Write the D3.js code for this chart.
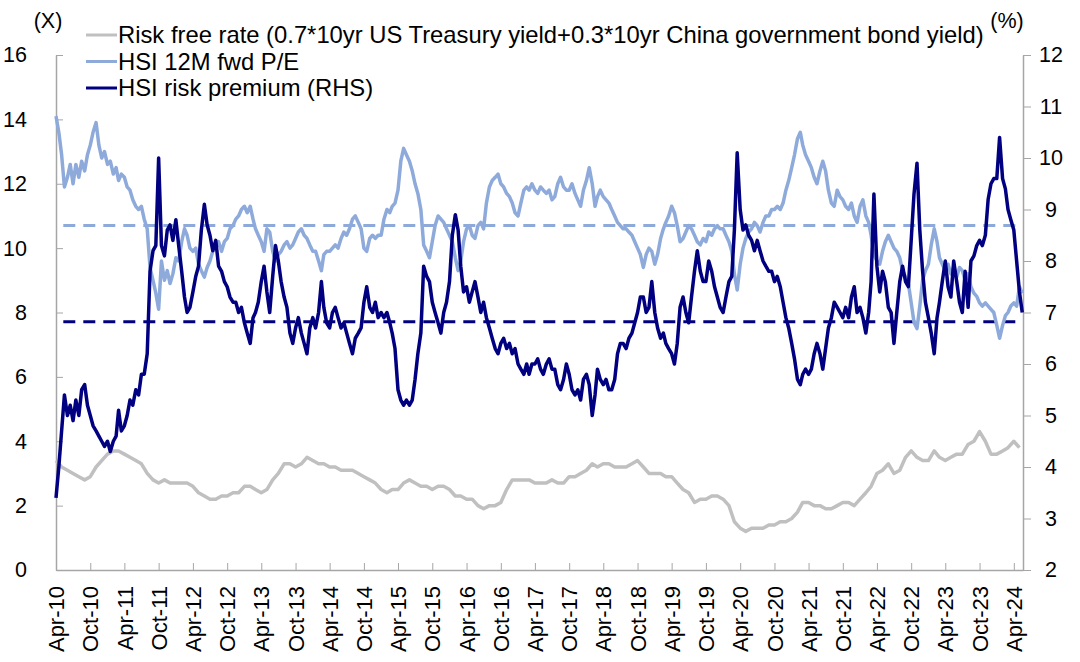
<!DOCTYPE html>
<html><head><meta charset="utf-8">
<script src="https://cdn.jsdelivr.net/npm/d3@7"></script>
<style>
html,body{margin:0;padding:0;background:#fff;}
svg{display:block;font-family:"Liberation Sans",Arial,sans-serif;}
</style></head>
<body><svg id="chart" width="1080" height="662"></svg>
<script>
// ---- DATA ----
const seriesNames = [
  "Risk free rate (0.7*10yr US Treasury yield+0.3*10yr China government bond yield)",
  "HSI 12M fwd P/E",
  "HSI risk premium (RHS)"
];
// x-axis tick labels (every 6 months)
const tickLabels = ["Apr-10","Oct-10","Apr-11","Oct-11","Apr-12","Oct-12","Apr-13","Oct-13","Apr-14","Oct-14",
  "Apr-15","Oct-15","Apr-16","Oct-16","Apr-17","Oct-17","Apr-18","Oct-18","Apr-19","Oct-19",
  "Apr-20","Oct-20","Apr-21","Oct-21","Apr-22","Oct-22","Apr-23","Oct-23","Apr-24"];
const leftTicks = [0,2,4,6,8,10,12,14,16];
const rightTicks = [2,3,4,5,6,7,8,9,10,11,12];
// Half-monthly readings (1st and 16th of each month), Apr-2010 .. May-2024
const peValues = [
  14.1,13.6,12.9,11.9,12.2,12.6,12.0,12.6,12.2,12.7,12.4,12.9,
  13.2,13.6,13.9,13.2,12.8,13.0,12.6,12.7,12.3,12.5,12.1,12.3,
  12.2,11.9,11.8,11.5,11.3,11.2,11.3,10.9,10.6,9.4,9.0,8.6,
  8.1,9.6,9.0,9.3,8.9,9.2,9.7,9.6,10.2,10.6,10.4,10.0,
  9.9,10.0,9.5,9.3,9.1,9.4,9.6,9.9,10.0,10.2,9.9,10.2,
  10.3,10.6,10.7,10.9,11.0,11.2,11.3,11.1,11.3,10.9,10.6,10.4,
  10.2,9.9,10.6,10.5,9.9,9.6,9.8,9.9,10.1,10.2,10.0,10.1,
  10.3,10.5,10.6,10.4,10.3,10.1,9.9,9.9,9.6,9.3,9.8,9.9,
  9.9,10.0,10.1,10.0,10.3,10.5,10.4,10.6,10.9,11.0,10.8,10.6,
  10.0,9.9,10.3,10.4,10.3,10.4,10.4,10.9,11.2,11.1,11.3,11.4,
  11.8,12.7,13.1,12.9,12.7,12.4,12.0,11.7,11.2,10.1,9.9,9.7,
  10.2,10.7,11.0,10.9,10.8,10.6,10.4,10.2,9.7,9.3,9.6,10.2,
  10.6,10.7,10.4,10.3,10.7,10.8,10.6,11.4,11.9,12.1,12.2,12.3,
  12.0,11.9,11.7,11.6,11.4,11.1,11.0,11.4,11.8,11.9,11.8,12.0,
  11.8,11.7,11.9,11.8,11.7,11.8,11.5,11.6,12.0,12.2,11.9,11.8,
  11.8,12.0,11.7,11.5,11.3,11.8,12.1,12.5,12.0,11.3,11.6,11.8,
  11.6,11.5,11.4,11.2,11.0,10.8,10.7,10.6,10.6,10.5,10.4,10.2,
  10.0,9.8,9.4,9.8,10.0,9.9,9.5,9.8,10.3,10.6,10.8,11.0,
  11.3,11.1,10.7,10.2,10.3,10.5,10.7,10.6,10.4,10.2,10.1,10.3,
  10.2,10.5,10.4,10.6,10.7,10.6,10.6,10.4,10.2,9.9,9.2,8.7,
  9.5,10.0,10.3,10.5,10.6,10.8,10.7,10.5,10.8,11.0,11.0,11.2,
  11.2,11.3,11.2,11.4,11.8,12.1,12.5,12.9,13.4,13.6,13.2,12.9,
  12.7,12.5,12.2,12.0,12.4,12.7,12.4,11.8,11.4,11.3,11.8,11.6,
  11.5,11.3,11.2,11.4,11.0,10.8,11.3,11.5,11.0,10.8,10.4,9.8,
  9.6,9.5,9.9,10.2,10.4,10.2,10.0,9.9,9.7,9.3,9.1,8.9,
  8.3,7.7,7.5,8.2,9.0,9.3,9.5,10.1,10.6,10.2,9.7,9.5,
  9.3,9.5,9.2,9.4,9.1,9.4,9.3,9.0,9.2,8.8,8.6,8.5,
  8.3,8.2,8.3,8.2,8.1,8.0,7.6,7.2,7.6,7.9,8.0,8.2,
  8.3,8.2,8.8,8.6
];
const rpValues = [
  3.4,4.0,4.7,5.4,5.0,5.2,4.9,5.3,5.0,5.5,5.6,5.2,
  5.0,4.8,4.7,4.6,4.5,4.4,4.5,4.3,4.5,4.6,5.1,4.7,
  4.8,5.0,5.3,5.2,5.5,5.4,5.8,5.8,6.2,7.8,8.2,8.3,
  10.0,8.3,8.1,8.6,8.7,8.4,8.8,8.3,7.8,7.3,7.0,7.1,
  7.4,7.7,7.9,8.6,9.1,8.7,8.5,8.2,8.4,7.9,7.8,7.6,
  7.5,7.3,7.2,7.2,7.0,7.1,6.8,6.6,6.4,6.9,7.0,7.2,
  7.6,7.9,7.4,7.0,7.7,8.3,8.0,7.6,7.3,7.1,6.6,6.4,
  6.7,6.9,6.6,6.4,6.2,6.7,6.9,6.7,7.0,7.6,7.1,6.8,
  6.7,7.0,7.1,6.9,6.7,6.8,6.6,6.4,6.2,6.5,6.6,6.7,
  7.2,7.5,7.1,7.0,7.2,6.9,7.0,6.9,7.0,6.8,6.6,6.3,
  5.5,5.3,5.2,5.3,5.2,5.3,5.7,6.2,6.6,7.9,7.7,7.6,
  7.2,7.0,6.8,6.6,7.0,7.2,7.6,8.5,8.9,8.6,7.9,7.4,
  7.5,7.2,7.4,7.6,7.3,7.0,7.2,6.9,6.7,6.5,6.3,6.2,
  6.4,6.5,6.3,6.4,6.2,6.3,6.0,5.9,5.8,6.0,5.8,6.0,
  6.0,6.1,5.9,5.8,6.0,6.1,5.9,5.9,5.6,5.5,5.7,6.0,
  5.8,5.5,5.4,5.5,5.3,5.7,5.8,5.6,5.0,5.4,5.9,5.7,
  5.6,5.7,5.5,5.5,5.7,6.2,6.4,6.4,6.3,6.5,6.6,6.8,
  7.0,7.3,7.3,7.0,7.1,7.6,7.0,6.7,6.5,6.6,6.4,6.3,
  6.2,6.0,6.4,7.1,7.3,7.0,6.8,7.3,7.8,8.2,7.8,7.6,
  7.6,8.0,7.8,7.5,7.3,7.1,7.0,7.3,7.6,7.7,8.6,10.1,
  9.0,8.6,8.7,8.5,8.4,8.2,8.4,8.2,8.0,7.9,7.8,7.8,
  7.6,7.7,7.5,7.2,6.9,6.7,6.4,6.1,5.7,5.6,5.8,5.9,
  5.8,5.9,6.2,6.4,6.2,5.9,6.3,6.7,6.9,7.2,7.1,7.0,
  6.9,7.1,6.9,7.3,7.5,7.0,7.1,6.9,6.6,7.0,7.6,9.3,
  7.9,7.4,7.8,7.6,7.1,7.0,6.4,7.0,7.6,7.9,7.6,7.5,
  8.4,9.3,9.9,8.6,7.8,7.2,6.9,6.6,6.2,6.9,7.2,7.6,
  8.0,7.5,7.3,8.0,7.6,7.2,7.0,7.8,7.1,8.0,8.1,8.3,
  8.4,8.3,8.5,9.2,9.5,9.6,9.6,10.4,9.6,9.4,9.0,8.8,
  8.6,8.0,7.4,7.0
];
// Monthly readings, Apr-2010 .. May-2024
const rfValues = [
  3.4,3.2,3.1,3.0,2.9,2.8,2.9,3.2,3.4,
  3.6,3.7,3.7,3.6,3.5,3.4,3.3,3.0,2.8,2.7,2.8,2.7,
  2.7,2.7,2.7,2.6,2.4,2.3,2.2,2.2,2.3,2.3,2.4,2.4,
  2.6,2.6,2.5,2.4,2.5,2.8,3.0,3.3,3.3,3.2,3.3,3.5,
  3.4,3.3,3.3,3.2,3.2,3.1,3.1,3.1,3.0,2.9,2.8,2.7,
  2.5,2.4,2.5,2.5,2.7,2.8,2.7,2.6,2.6,2.5,2.6,2.6,
  2.5,2.3,2.3,2.2,2.2,2.0,1.9,2.0,2.0,2.1,2.5,2.8,
  2.8,2.8,2.8,2.7,2.7,2.7,2.8,2.7,2.7,2.9,2.9,3.0,
  3.1,3.3,3.2,3.3,3.3,3.2,3.2,3.2,3.3,3.4,3.2,3.0,
  3.0,3.0,2.9,2.9,2.7,2.5,2.4,2.1,2.2,2.2,2.3,2.3,
  2.2,2.0,1.5,1.3,1.2,1.3,1.3,1.3,1.4,1.4,1.5,1.5,
  1.6,1.8,2.1,2.1,2.0,2.0,1.9,1.9,2.0,2.1,2.1,2.0,
  2.2,2.4,2.6,3.0,3.1,3.3,3.0,3.1,3.5,3.7,3.5,3.4,
  3.4,3.7,3.5,3.4,3.5,3.6,3.6,3.9,4.0,4.3,4.0,3.6,
  3.6,3.7,3.8,4.0,3.8
];
// Long-run averages (dashed reference lines)
const peAverage = 10.7;   // left axis
const rpAverage = 6.82;   // right axis

// ---- BUILD ----
const halfMonthDates = d3.range(peValues.length).map(h => new Date(2010, 3 + Math.floor(h / 2), h % 2 ? 16 : 1));
const monthDates = d3.range(rfValues.length).map(m => new Date(2010, 3 + m, 1));
const peData = peValues.map((v, i) => ({date: halfMonthDates[i], v}));
const rpData = rpValues.map((v, i) => ({date: halfMonthDates[i], v}));
const rfData = rfValues.map((v, i) => ({date: monthDates[i], v}));
const tickDates = tickLabels.map((t, i) => new Date(2010, 3 + 6 * i, 1));

const svg = d3.select("#chart");
const L = 56, R = 1023, T = 55, B = 570;
const x = d3.scaleTime().domain([new Date(2010, 3, 1), new Date(2024, 4, 20)]).range([L, R]);
const yL = d3.scaleLinear().domain([0, 16]).range([B, T]);
const yR = d3.scaleLinear().domain([2, 12]).range([B, T]);

const axisColor = "#a6a6a6";
const ff = '"Liberation Sans", Arial, sans-serif';
const tickFont = 21.5;
const xTickFont = 22;
const legendFont = 23.8;

// axes
const xAxis = svg.append("g").attr("transform", `translate(0,${B})`)
  .call(d3.axisBottom(x).tickValues(tickDates).tickSizeInner(-7).tickSizeOuter(0)
    .tickFormat((d, i) => tickLabels[i]));
xAxis.select(".domain").attr("stroke", axisColor).attr("stroke-width", 1.5);
xAxis.selectAll(".tick line").attr("stroke", axisColor);
xAxis.selectAll(".tick text")
  .attr("transform", "rotate(-90)")
  .attr("text-anchor", "end")
  .attr("x", -16).attr("y", 0).attr("dy", "0.35em")
  .attr("font-size", xTickFont).attr("fill", "#000")
  .style("font-family", ff);

const yAxisL = svg.append("g").attr("transform", `translate(${L},0)`)
  .call(d3.axisLeft(yL).tickValues(leftTicks).tickSizeInner(-7).tickSizeOuter(0).tickPadding(29));
yAxisL.select(".domain").attr("stroke", axisColor).attr("stroke-width", 1.5);
yAxisL.selectAll(".tick line").attr("stroke", axisColor);
yAxisL.selectAll(".tick text").attr("font-size", tickFont).attr("fill", "#000")
  .style("font-family", ff);

const yAxisR = svg.append("g").attr("transform", `translate(${R},0)`)
  .call(d3.axisRight(yR).tickValues(rightTicks).tickSizeInner(8).tickSizeOuter(0).tickPadding(0));
yAxisR.select(".domain").attr("stroke", axisColor).attr("stroke-width", 1.5);
yAxisR.selectAll(".tick line").attr("stroke", axisColor);
yAxisR.selectAll(".tick text").attr("font-size", tickFont).attr("fill", "#000")
  .attr("text-anchor", "middle").attr("x", 28)
  .style("font-family", ff);

// unit labels
svg.append("text").attr("x", 48).attr("y", 28).attr("text-anchor", "middle")
  .attr("font-size", tickFont).text("(X)");
svg.append("text").attr("x", 1007).attr("y", 28).attr("text-anchor", "middle")
  .attr("font-size", tickFont).text("(%)");

// dashed average lines
svg.append("line")
  .attr("x1", x(new Date(2010, 4, 10))).attr("x2", x(new Date(2024, 4, 20)))
  .attr("y1", yL(peAverage)).attr("y2", yL(peAverage))
  .attr("stroke", "#8eaadb").attr("stroke-width", 3).attr("stroke-dasharray", "12,8");
svg.append("line")
  .attr("x1", x(new Date(2010, 4, 10))).attr("x2", x(new Date(2024, 4, 20)))
  .attr("y1", yR(rpAverage)).attr("y2", yR(rpAverage))
  .attr("stroke", "#000080").attr("stroke-width", 3).attr("stroke-dasharray", "12,8");

// series
const lineRF = d3.line().x(d => x(d.date)).y(d => yL(d.v));
const linePE = d3.line().x(d => x(d.date)).y(d => yL(d.v));
const lineRP = d3.line().x(d => x(d.date)).y(d => yR(d.v));
svg.append("path").datum(rfData).attr("d", lineRF).attr("fill", "none")
  .attr("stroke", "#c0c0c0").attr("stroke-width", 3.5).attr("stroke-linejoin", "round");
svg.append("path").datum(peData).attr("d", linePE).attr("fill", "none")
  .attr("stroke", "#8eaadb").attr("stroke-width", 3.5).attr("stroke-linejoin", "round");
svg.append("path").datum(rpData).attr("d", lineRP).attr("fill", "none")
  .attr("stroke", "#000080").attr("stroke-width", 3.5).attr("stroke-linejoin", "round");

// legend
const legendColors = ["#c0c0c0", "#8eaadb", "#000080"];
const legend = svg.append("g");
seriesNames.forEach((name, i) => {
  const yy = 35 + i * 26.5;
  legend.append("line").attr("x1", 86).attr("x2", 117).attr("y1", yy).attr("y2", yy)
    .attr("stroke", legendColors[i]).attr("stroke-width", 3);
  legend.append("text").attr("x", 118).attr("y", yy).attr("dy", "0.35em")
    .attr("font-size", legendFont).attr("fill", "#000").text(name);
});
</script>
</body></html>
